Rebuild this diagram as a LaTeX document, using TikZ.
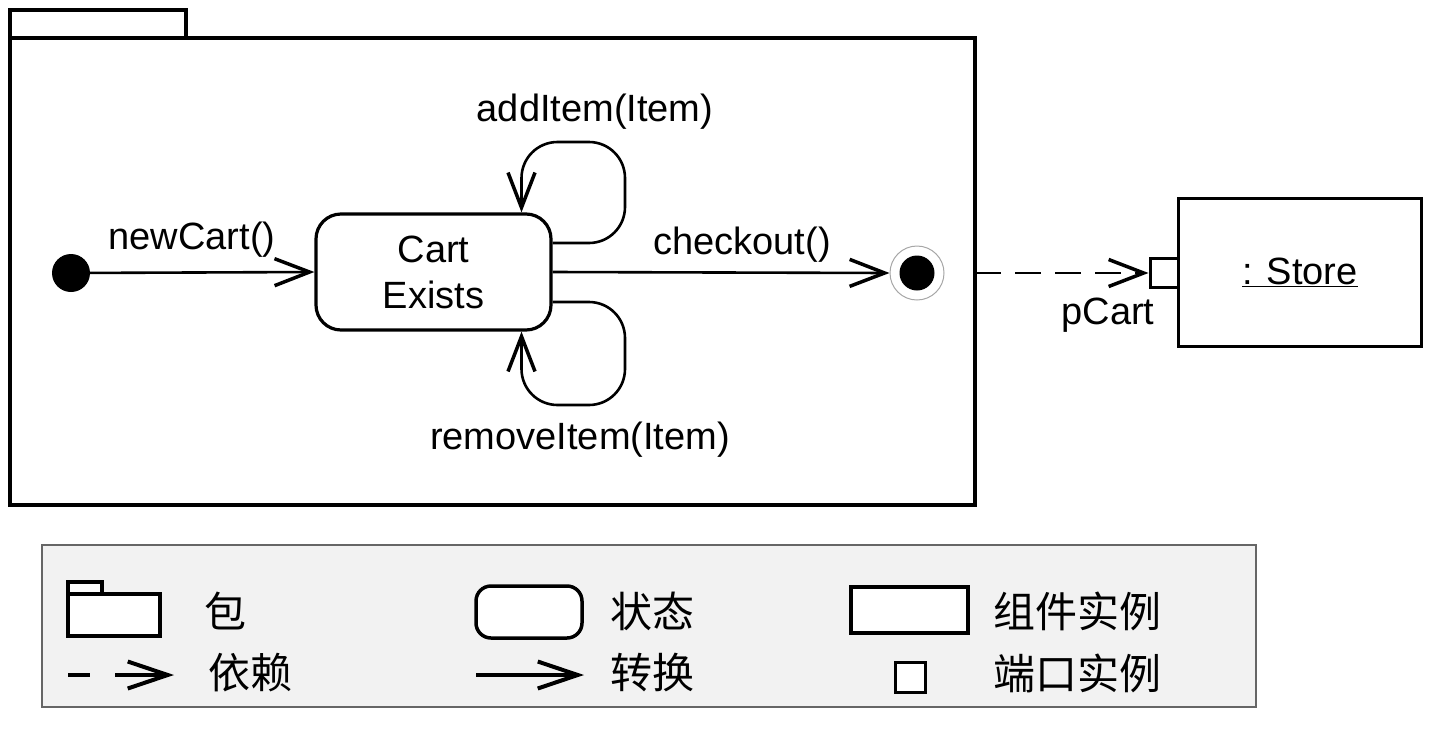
\documentclass[tikz,border=0pt]{standalone}
\usepackage{fontspec}
\setmainfont{Liberation Sans}
\newfontfamily\cjk{Noto Sans CJK SC}
\usetikzlibrary{arrows.meta}
\begin{document}
\begin{tikzpicture}[x=1pt,y=-1pt,
  lbl/.style={font=\fontsize{38}{46}\selectfont, inner sep=0pt},
  cjkl/.style={font=\cjk\fontsize{42}{48}\selectfont, inner sep=0pt, anchor=west},
  tip/.style={-{Straight Barb[length=35pt,width=27pt,line width=3.5pt]}},
  trans/.style={line width=2.6pt, tip},
  dep/.style={line width=2.6pt, dash pattern=on 26pt off 14pt, tip},
  pkgline/.style={line width=3.4pt},
  statebox/.style={draw, line width=3.2pt, rounded corners=25pt, fill=white,
    minimum width=235pt, minimum height=116pt, align=center,
    font=\fontsize{38}{46}\selectfont, inner sep=0pt},
  compbox/.style={draw, line width=3pt, fill=white, inner sep=0pt},
]
\useasboundingbox (0,0) rectangle (1429,734);
% package
\draw[pkgline] (10,10) rectangle (186,38);
\draw[pkgline] (10,38) rectangle (975,505);
\coordinate (pkgE) at (975,273);
% states
\node[circle, fill=black, minimum size=38pt, inner sep=0pt] (ini) at (71,273) {};
\node[statebox] (cart) at (433.5,272) {Cart\\Exists};
\node[circle, draw=gray!70, line width=1pt, minimum size=54pt, inner sep=0pt] (fin) at (917,273) {};
\node[circle, fill=black, minimum size=35pt, inner sep=0pt] (finin) at (917,273) {};
% transitions
\draw[trans] (ini) -- (cart.west);
\node[lbl] (lnew) at (192,240) {newCart()};
\draw[trans] (cart.east) -- (fin.west);
\node[lbl] (lchk) at (742,245) {checkout()};
\draw[trans, rounded corners=36pt] ([yshift=29pt]cart.east) -| (625,142) -| ([xshift=88pt]cart.north);
\node[lbl] (ladd) at (595,112) {addItem(Item)};
\draw[trans, rounded corners=36pt] ([yshift=-30pt]cart.east) -| (625,405) -| ([xshift=88pt]cart.south);
\node[lbl] (lrem) at (580,440) {removeItem(Item)};
% component
\node[compbox, minimum width=243pt, minimum height=148pt, font=\fontsize{38}{46}\selectfont] (store) at (1300,272) {\underline{: Store}};
\node[compbox, minimum width=28pt, minimum height=29pt] (port) at (1164,273) {};
\node[lbl] (pcart) at (1108,315) {pCart};
\draw[dep] (pkgE) -- (port.west);
% legend
\draw[draw=gray!80!black, line width=1.5pt, fill=black!5] (42,545) rectangle (1256,707);
\draw[pkgline, fill=white] (68,582) rectangle (102,594);
\draw[pkgline, fill=white] (68,594) rectangle (160,636);
\node[cjkl] (t1) at (204,611) {包};
\coordinate (d1) at (68,675);
\coordinate (d2) at (174,675);
\draw[line width=3.6pt, dash pattern=on 22pt off 25pt on 200pt off 0pt,
  -{Straight Barb[length=40pt,width=27pt,line width=4pt]}] (d1) -- (d2);
\node[cjkl] (t2) at (208,673) {依赖};
\node[statebox, minimum width=106pt, minimum height=52pt, rounded corners=15pt, line width=3.5pt] (lstate) at (529,612) {};
\node[cjkl] (t3) at (610,611) {状态};
\coordinate (r1) at (476,675);
\coordinate (r2) at (584,675);
\draw[line width=3.6pt, -{Straight Barb[length=40pt,width=27pt,line width=4pt]}] (r1) -- (r2);
\node[cjkl] (t4) at (610,673) {转换};
\node[compbox, line width=3.5pt, minimum width=117pt, minimum height=46pt] (lcomp) at (909.5,610) {};
\node[cjkl] (t5) at (993,611) {组件实例};
\node[compbox, minimum width=30pt, minimum height=30pt] (lport) at (910,677) {};
\node[cjkl] (t6) at (993,673) {端口实例};
\end{tikzpicture}
\end{document}
